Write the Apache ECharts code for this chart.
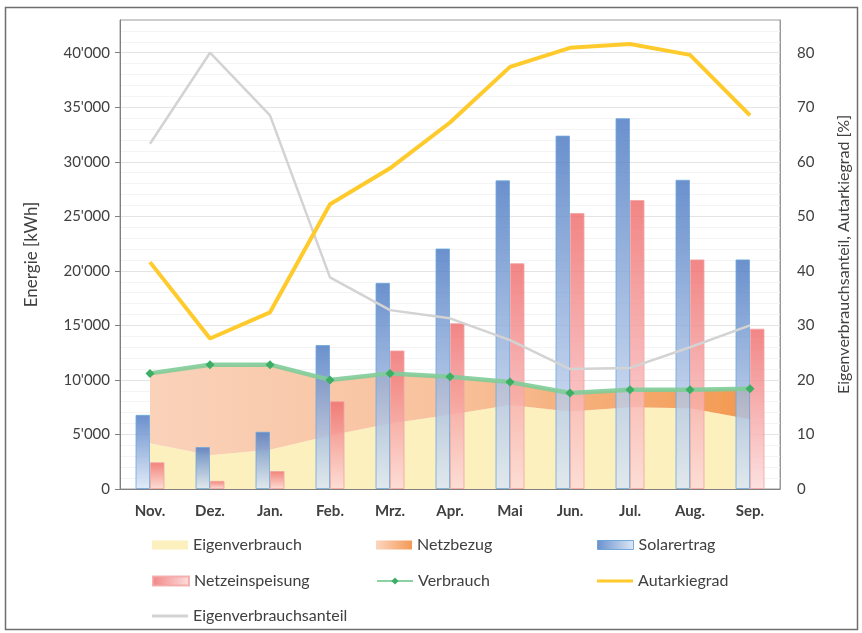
<!DOCTYPE html>
<html>
<head>
<meta charset="utf-8">
<script src="https://cdn.jsdelivr.net/npm/echarts@6/dist/echarts.min.js"></script>
<style>html,body{margin:0;padding:0;background:#fff;}#c{width:862px;height:633px;}</style>
</head>
<body>
<div id="c"></div>
<script>
const categories = ['Nov.','Dez.','Jan.','Feb.','Mrz.','Apr.','Mai','Jun.','Jul.','Aug.','Sep.'];
const eigenverbrauch = [4200,3100,3600,4900,6000,6800,7700,7100,7500,7400,6400];
const netzbezug = [6400,8300,7800,5100,4600,3500,2100,1700,1600,1700,2800];
const solarertrag = [6800,3850,5250,13200,18900,22050,28300,32400,34000,28350,21050];
const netzeinspeisung = [2450,750,1650,8050,12700,15200,20700,25300,26500,21050,14700];
const verbrauch = [10600,11400,11400,10000,10600,10300,9800,8800,9100,9100,9200];
const autarkiegrad = [41.6,27.6,32.4,52.2,58.8,67.2,77.4,80.9,81.6,79.6,68.5];
const eigenverbrauchsanteil = [63.3,80.0,68.5,38.8,32.8,31.3,27.3,22.0,22.2,26.0,30.0];

const FONT = 'Lato';
const G = echarts.graphic;
const orangeGrad = new G.LinearGradient(0,0,1,0,[{offset:0,color:'#FAD2BA'},{offset:0.5,color:'#F8C19C'},{offset:1,color:'#F3994F'}]);
const orangeLegend = new G.LinearGradient(0,0,1,0,[{offset:0,color:'#FBD6C0'},{offset:1,color:'#F39A55'}]);
const blueGrad = new G.LinearGradient(0,0,0,1,[{offset:0,color:'#4A78C2'},{offset:1,color:'#DCE7F6'}]);
const blueLegend = new G.LinearGradient(0,0,1,0,[{offset:0,color:'#4A78C2'},{offset:1,color:'#D6E3F4'}]);
const redGrad = new G.LinearGradient(0,0,0,1,[{offset:0,color:'#EF6B6B'},{offset:1,color:'#FCDADA'}]);
const redLegend = new G.LinearGradient(0,0,1,0,[{offset:0,color:'#EF6B6B'},{offset:1,color:'#FCD8D8'}]);

function fmt(v){
  if (v % 5000 !== 0) return '';
  if (v === 0) return '0';
  const s = String(v);
  return s.slice(0, s.length-3) + "'" + s.slice(-3);
}

const legendText = {fontFamily: FONT, fontSize: 16, color: '#404040'};
function lg(name, left, top, item, h){
  return {data:[item ? Object.assign({name:name}, item) : name], left:left, top:top, itemWidth:36, itemHeight:h || 9, selectedMode:false, textStyle:legendText};
}

const chart = echarts.init(document.getElementById('c'), null, {renderer:'canvas'});
chart.setOption({
  animation:false,
  backgroundColor:'#fff',
  textStyle:{fontFamily:FONT},
  graphic:[{type:'rect', shape:{x:5.5,y:7.5,width:852,height:622}, style:{fill:'none', stroke:'#6E6E6E', lineWidth:1.5}, silent:true}],
  grid:{left:120, right:82, top:20, bottom:144, show:true, borderColor:'#9A9A9A', borderWidth:1},
  legend:[
    lg('Eigenverbrauch', 147, 532, {icon:'rect', itemStyle:{color:'#FCF0BE'}}),
    lg('Netzbezug', 371, 532, {icon:'rect', itemStyle:{color:orangeLegend}}),
    lg('Solarertrag', 592, 532, {icon:'rect', itemStyle:{color:blueLegend, borderColor:'#5B9BD5', borderWidth:1}}),
    lg('Netzeinspeisung', 147, 568, {icon:'rect', itemStyle:{color:redLegend}}),
    lg('Verbrauch', 371, 568),
    lg('Autarkiegrad', 592, 568, {icon:'rect', itemStyle:{color:'#FFCA2C'}}, 3),
    lg('Eigenverbrauchsanteil', 147, 603, {icon:'rect', itemStyle:{color:'#D3D3D3'}}, 3)
  ],
  xAxis:{
    type:'category', data:categories, boundaryGap:true,
    axisLine:{lineStyle:{color:'#808080', width:1}},
    axisTick:{alignWithLabel:true, length:5, lineStyle:{color:'#808080'}},
    axisLabel:{fontFamily:FONT, fontSize:15, fontWeight:'bold', color:'#404040', margin:15}
  },
  yAxis:[
    {
      type:'value', min:0, max:43000, interval:5000,
      name:'Energie [kWh]', nameLocation:'middle', nameGap:80, nameRotate:90,
      nameTextStyle:{fontFamily:FONT, fontSize:17, color:'#404040'},
      axisLine:{show:true, lineStyle:{color:'#808080'}},
      axisTick:{show:true, length:5, lineStyle:{color:'#808080'}, customValues:[0,5000,10000,15000,20000,25000,30000,35000,40000]},
      axisLabel:{fontFamily:FONT, fontSize:15, color:'#404040', margin:10, formatter:fmt},
      splitLine:{show:true, lineStyle:{color:'#E4E4E4'}},
      minorTick:{show:false, splitNumber:5},
      minorSplitLine:{show:true, lineStyle:{color:'#F4F4F4'}}
    },
    {
      type:'value', min:0, max:86, interval:10, position:'right',
      name:'Eigenverbrauchsanteil, Autarkiegrad [%]', nameLocation:'middle', nameGap:56, nameRotate:90,
      nameTextStyle:{fontFamily:FONT, fontSize:16, color:'#404040'},
      axisLine:{show:true, lineStyle:{color:'#9A9A9A'}},
      axisTick:{show:false},
      axisLabel:{fontFamily:FONT, fontSize:15, color:'#404040', margin:17, formatter:function(v){return v%10===0 && v<=80 ? String(v) : '';}},
      splitLine:{show:false}
    }
  ],
  series:[
    {name:'Eigenverbrauch', type:'line', stack:'e', data:eigenverbrauch, symbol:'none', z:1,
      lineStyle:{width:0, opacity:0}, itemStyle:{color:'#FCF0BE'}, areaStyle:{color:'#FCF0BE', opacity:1}},
    {name:'Netzbezug', type:'line', stack:'e', data:netzbezug, symbol:'none', z:1,
      lineStyle:{width:0, opacity:0}, itemStyle:{color:'#F6B080'}, areaStyle:{color:orangeGrad, opacity:1}},
    {name:'Solarertrag', type:'bar', data:solarertrag, barWidth:14.5, barGap:'0%', z:2,
      itemStyle:{color:blueGrad, borderColor:'#6FA8DC', borderWidth:1, opacity:0.82}},
    {name:'Netzeinspeisung', type:'bar', data:netzeinspeisung, barWidth:14.5, barGap:'0%', z:2,
      itemStyle:{color:redGrad, borderColor:'#F3A3A3', borderWidth:1, opacity:0.82}},
    {name:'Eigenverbrauchsanteil', type:'line', yAxisIndex:1, data:eigenverbrauchsanteil, symbol:'none', z:3,
      lineStyle:{color:'#D3D3D3', width:2.5}, itemStyle:{color:'#D3D3D3'}},
    {name:'Verbrauch', type:'line', data:verbrauch, symbol:'diamond', symbolSize:9, z:4,
      lineStyle:{color:'#7FCC98', width:4.5, opacity:0.9}, itemStyle:{color:'#3DAE64'}},
    {name:'Autarkiegrad', type:'line', yAxisIndex:1, data:autarkiegrad, symbol:'none', z:5,
      lineStyle:{color:'#FFCA2C', width:4}, itemStyle:{color:'#FFCA2C'}}
  ]
});
</script>
</body>
</html>
